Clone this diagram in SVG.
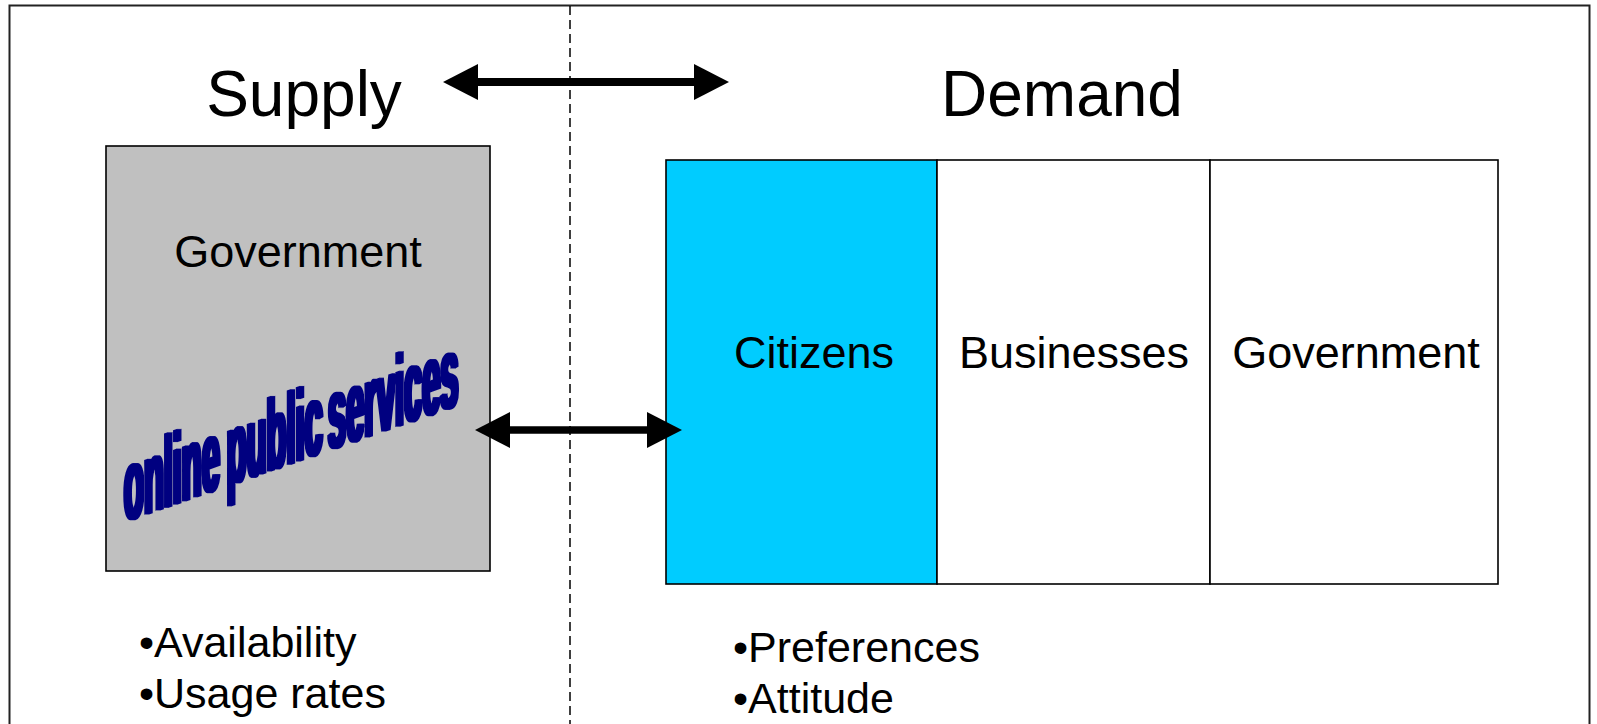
<svg xmlns="http://www.w3.org/2000/svg" width="1597" height="724" viewBox="0 0 1597 724">
  <style>
    .label { font-family: "Liberation Sans", Arial, sans-serif; fill: #000; }
    .title { font-size: 64px; text-anchor: middle; }
    .cell { font-size: 45px; text-anchor: middle; }
    .bullet { font-size: 43px; }
    .box { stroke: #000; stroke-width: 1.6; }
    .wordart { font-family: "Liberation Sans", Arial, sans-serif; font-weight: bold; font-size: 100px; fill: #000080; }
    .arrow { stroke: #000; fill: none; }
  </style>
  <defs>
    <marker id="arrowhead" viewBox="0 0 35 36" markerWidth="35" markerHeight="36"
            refX="0" refY="18" markerUnits="userSpaceOnUse" orient="auto-start-reverse">
      <path d="M0,0 L35,18 L0,36 Z" fill="#000"/>
    </marker>
    <!-- widens the condensed lettering mostly sideways -->
    <filter id="heavy" filterUnits="userSpaceOnUse" x="100" y="300" width="400" height="260">
      <feMorphology operator="dilate" radius="2.2 0.8"/>
    </filter>
  </defs>

  <rect width="1597" height="724" fill="#fff"/>

  <!-- outer frame (open at the bottom edge of the page) -->
  <rect x="9.5" y="5.5" width="1580" height="760" fill="none" stroke="#222" stroke-width="2"/>

  <!-- supply / demand divider -->
  <line x1="570" y1="6" x2="570" y2="724" stroke="#000" stroke-width="1.5" stroke-dasharray="9,5"/>

  <g id="supply-title">
    <text class="label title" x="304" y="116">Supply</text>
  </g>
  <g id="demand-title">
    <text class="label title" x="1062" y="116">Demand</text>
  </g>

  <g id="supply-government">
    <rect class="box" x="106" y="146" width="384" height="425" fill="#C0C0C0"/>
    <text class="label cell" x="298" y="267">Government</text>
    <g filter="url(#heavy)">
      <g transform="skewY(-19.3) scale(0.3255,1)">
        <text class="wordart" y="565"><tspan x="381">online</tspan><tspan x="697">public</tspan><tspan x="1008">services</tspan></text>
      </g>
    </g>
  </g>

  <g id="demand-citizens">
    <rect class="box" x="666" y="160" width="271" height="424" fill="#00CCFF"/>
    <text class="label cell" x="814" y="368">Citizens</text>
  </g>
  <g id="demand-businesses">
    <rect class="box" x="937" y="160" width="273" height="424" fill="#fff"/>
    <text class="label cell" x="1074" y="368">Businesses</text>
  </g>
  <g id="demand-government">
    <rect class="box" x="1210" y="160" width="288" height="424" fill="#fff"/>
    <text class="label cell" x="1356" y="368">Government</text>
  </g>

  <g id="supply-measures">
    <text class="label bullet" x="139" y="657">•Availability</text>
    <text class="label bullet" x="139" y="708">•Usage rates</text>
  </g>
  <g id="demand-measures">
    <text class="label bullet" x="733" y="662">•Preferences</text>
    <text class="label bullet" x="733" y="713">•Attitude</text>
  </g>

  <g id="connectors">
    <line class="arrow" x1="478" y1="82" x2="694" y2="82" stroke-width="8"
          marker-start="url(#arrowhead)" marker-end="url(#arrowhead)"/>
    <line class="arrow" x1="510" y1="430" x2="647" y2="430" stroke-width="7.5"
          marker-start="url(#arrowhead)" marker-end="url(#arrowhead)"/>
  </g>
</svg>
